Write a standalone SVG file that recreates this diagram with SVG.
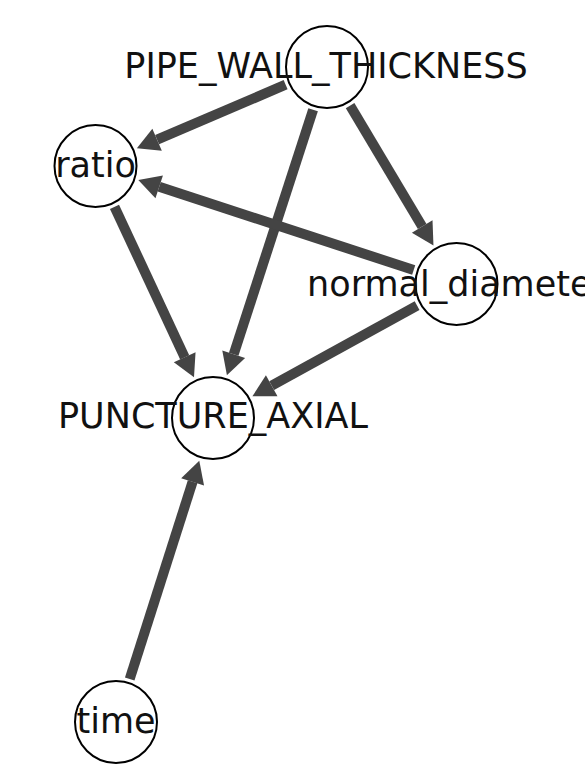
<svg xmlns="http://www.w3.org/2000/svg" width="585" height="764" viewBox="0 0 585 764">
  <style>
    .edge { stroke: #444444; stroke-width: 10; fill: none; marker-end: url(#head); }
    .node circle { fill: #ffffff; stroke: #000000; stroke-width: 2; }
    .node text { font-family: "DejaVu Sans", sans-serif; font-size: 35px; fill: #111111; text-anchor: middle; }
  </style>
  <defs>
    <!-- arrowhead: base sits on the line end, tip stops just short of the target circle -->
    <marker id="head" markerUnits="userSpaceOnUse" markerWidth="24" markerHeight="26" refX="0" refY="12" orient="auto" overflow="visible">
      <path d="M0,0 L22,12 L0,24 Z" fill="#444444"/>
    </marker>
  </defs>
  <rect width="585" height="764" fill="#ffffff"/>

  <g id="edges">
    <line class="edge" x1="285.6" y1="84.7" x2="157.1" y2="139.7"/>
    <line class="edge" x1="313.1" y1="109.8" x2="233.7" y2="354.3"/>
    <line class="edge" x1="350.1" y1="105.6" x2="422.2" y2="226.5"/>
    <line class="edge" x1="413.7" y1="270.0" x2="159.2" y2="186.8"/>
    <line class="edge" x1="417.1" y1="305.7" x2="271.7" y2="385.7"/>
    <line class="edge" x1="114.5" y1="206.8" x2="184.7" y2="357.3"/>
    <line class="edge" x1="129.7" y1="679.1" x2="192.6" y2="481.8"/>
  </g>

  <g id="node-PIPE_WALL_THICKNESS" class="node">
    <circle cx="327" cy="67" r="41"/>
    <text x="326" y="77.5">PIPE_WALL_THICKNESS</text>
  </g>
  <g id="node-ratio" class="node">
    <circle cx="95.5" cy="166" r="41"/>
    <text x="95.5" y="176.5">ratio</text>
  </g>
  <g id="node-normal_diameter" class="node">
    <circle cx="456.5" cy="284" r="41"/>
    <text x="456.5" y="296">normal_diameter</text>
  </g>
  <g id="node-PUNCTURE_AXIAL" class="node">
    <circle cx="213" cy="418" r="41"/>
    <text x="213" y="428">PUNCTURE_AXIAL</text>
  </g>
  <g id="node-time" class="node">
    <circle cx="116" cy="722" r="41"/>
    <text x="116" y="733">time</text>
  </g>
</svg>
